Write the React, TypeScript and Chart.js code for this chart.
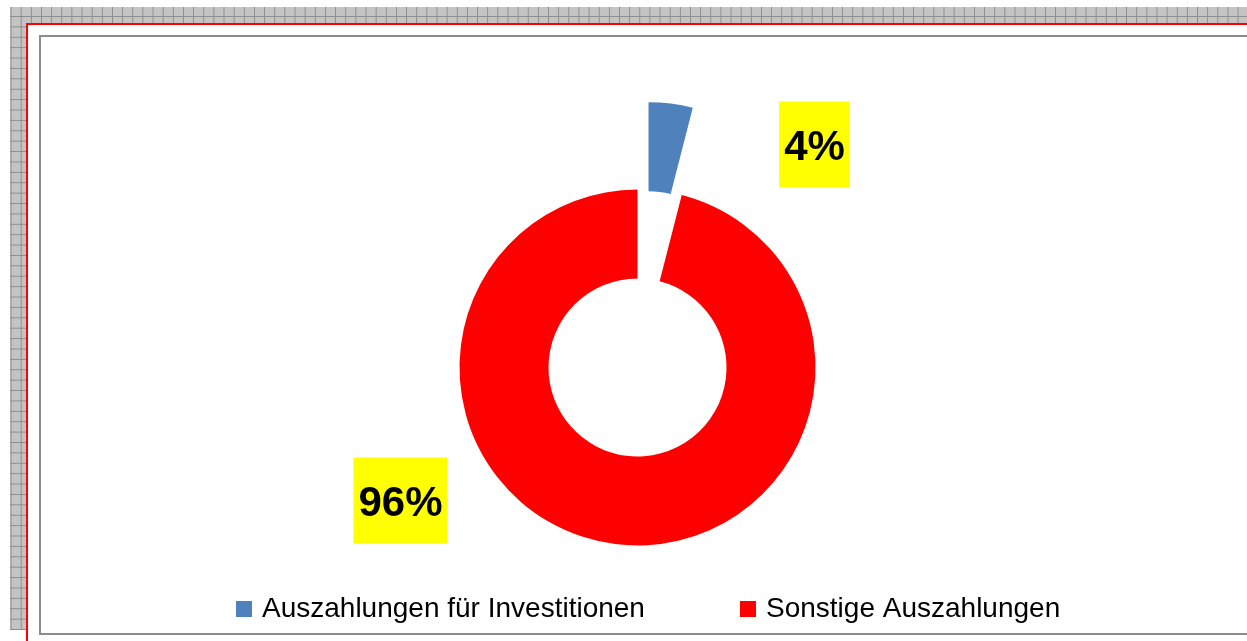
import React, { useEffect, useRef } from "react";
import { Chart, registerables } from "chart.js";

Chart.register(...registerables);

// ---- data ----
const categories = ["Auszahlungen für Investitionen", "Sonstige Auszahlungen"];
const shares = [4, 96];
const colors = ["#4F81BD", "#FF0000"];
const explode = [88, 0];

// ---- layout constants (not data) ----
const LABEL_OFFSETS = [
  [177, -223],
  [-237, 133],
];
const LEGEND_X = [236, 740];
const LEGEND_Y = 601;

const FONT = '"Liberation Sans", Arial, sans-serif';

// pure translation of exploded slices (Excel style)
const explodePlugin = {
  id: "explodeSlices",
  afterDatasetUpdate(chart: any, args: any) {
    const meta = args.meta;
    meta.data.forEach((arc: any, i: number) => {
      const d = explode[i] || 0;
      if (!d) return;
      const mid = (arc.startAngle + arc.endAngle) / 2;
      arc.x += Math.cos(mid) * d;
      arc.y += Math.sin(mid) * d;
    });
  },
};

const labelPlugin = {
  id: "pctLabels",
  afterDatasetsDraw(chart: any) {
    const ctx = chart.ctx as CanvasRenderingContext2D;
    const area = chart.chartArea;
    const cx0 = (area.left + area.right) / 2;
    const cy0 = (area.top + area.bottom) / 2;
    const data = chart.data.datasets[0].data as number[];
    const total = data.reduce((a, b) => a + b, 0);
    ctx.save();
    ctx.font = `bold 42px ${FONT}`;
    data.forEach((v, i) => {
      const text = Math.round((v / total) * 100) + "%";
      const w = ctx.measureText(text).width + 10;
      const h = 86;
      const cx = cx0 + LABEL_OFFSETS[i][0];
      const cy = cy0 + LABEL_OFFSETS[i][1];
      ctx.fillStyle = "#FFFF00";
      ctx.fillRect(cx - w / 2, cy - h / 2, w, h);
      ctx.fillStyle = "#000000";
      ctx.textAlign = "center";
      ctx.textBaseline = "alphabetic";
      ctx.fillText(text, cx, cy + 15);
    });
    ctx.restore();
  },
};

const legendPlugin = {
  id: "customLegend",
  afterDraw(chart: any) {
    const ctx = chart.ctx as CanvasRenderingContext2D;
    const labels = chart.data.labels as string[];
    const bg = chart.data.datasets[0].backgroundColor as string[];
    ctx.save();
    ctx.font = `28px ${FONT}`;
    ctx.textAlign = "left";
    ctx.textBaseline = "alphabetic";
    labels.forEach((label, i) => {
      const x = LEGEND_X[i];
      ctx.fillStyle = bg[i];
      ctx.fillRect(x, LEGEND_Y, 16, 16);
      ctx.fillStyle = "#000000";
      ctx.fillText(label, x + 26, LEGEND_Y + 16);
    });
    ctx.restore();
  },
};

export default function App() {
  const canvasRef = useRef<HTMLCanvasElement | null>(null);

  useEffect(() => {
    if (!canvasRef.current) return;
    const chart = new Chart(canvasRef.current, {
      type: "doughnut",
      data: {
        labels: categories,
        datasets: [
          {
            data: shares,
            backgroundColor: colors,
            borderWidth: 0,
            offset: 0,
            hoverOffset: 0,
          } as any,
        ],
      },
      options: {
        responsive: false,
        animation: false,
        events: [],
        radius: 178,
        cutout: "50%",
        rotation: 0,
        layout: { padding: { left: 28, right: 0, top: 100, bottom: 6 } },
        plugins: {
          legend: { display: false },
          tooltip: { enabled: false },
          title: { display: false },
        },
      } as any,
      plugins: [explodePlugin, labelPlugin, legendPlugin],
    });
    return () => chart.destroy();
  }, []);

  const gridBg: React.CSSProperties = {
    position: "absolute",
    left: 10,
    top: 7,
    width: 1237,
    height: 623,
    backgroundColor: "#c4c4c4",
    backgroundImage:
      "linear-gradient(to right, #8c8c8c 1px, transparent 1px), linear-gradient(to bottom, #8c8c8c 1px, transparent 1px)",
    backgroundSize: "10.15px 10.4px",
    backgroundPosition: "0.6px 9px",
  };

  return (
    <div
      style={{
        position: "fixed",
        left: 0,
        top: 0,
        width: 1247,
        height: 641,
        overflow: "hidden",
        background: "#ffffff",
      }}
    >
      <div style={gridBg} />
      <div
        style={{
          position: "absolute",
          left: 26,
          top: 23,
          width: 1300,
          height: 700,
          background: "#ffffff",
          borderTop: "2px solid #ff0000",
          borderLeft: "2px solid #ff0000",
        }}
      />
      <div
        style={{
          position: "absolute",
          left: 39,
          top: 35,
          width: 1300,
          height: 596,
          border: "2px solid #8c8c8c",
        }}
      />
      <canvas
        ref={canvasRef}
        width={1247}
        height={641}
        style={{ position: "absolute", left: 0, top: 0, width: 1247, height: 641, display: "block" }}
      />
    </div>
  );
}
